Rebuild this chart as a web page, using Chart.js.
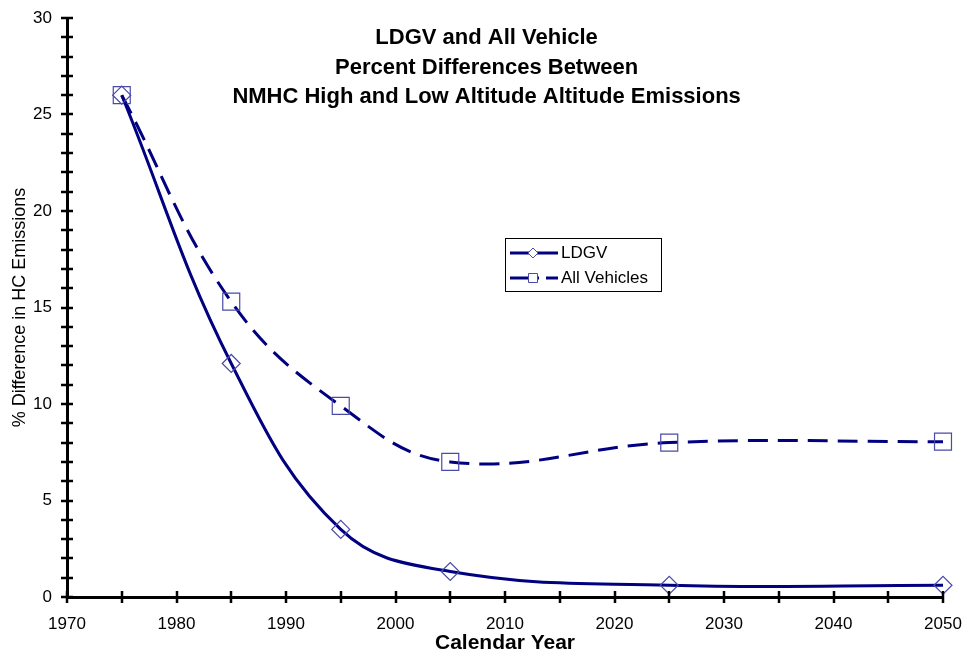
<!DOCTYPE html>
<html>
<head>
<meta charset="utf-8">
<script src="https://cdn.jsdelivr.net/npm/chart.js@4/dist/chart.umd.min.js"></script>
<style>
  html, body { margin: 0; padding: 0; background: #fff; }
  #wrap { width: 964px; height: 656px; }
</style>
</head>
<body>
<div id="wrap"><canvas id="chart" width="964" height="656"></canvas></div>
<script>
const years = [1975, 1985, 1995, 2005, 2025, 2050];
const ldgv = [26.0, 12.1, 3.5, 1.32, 0.61, 0.61];
const allVehicles = [26.0, 15.3, 9.9, 7.0, 8.0, 8.05];
const titleLines = ['LDGV and All Vehicle', 'Percent Differences Between', 'NMHC High and Low Altitude Altitude Emissions'];

const NAVY = '#000080';
const MARK = '#4a4aa8';
const FONT = '"Liberation Sans", Arial, sans-serif';

function toXY(ys) {
  return years.map((x, i) => ({ x, y: ys[i] }));
}

// cross ticks on both axes, minor every 1 (y) and every 5 years (x)
const axisTicks = {
  id: 'axisTicks',
  afterDraw(chart) {
    const { ctx, chartArea: a, scales: { x, y } } = chart;
    ctx.save();
    ctx.strokeStyle = '#000';
    ctx.lineWidth = 2.5;
    ctx.beginPath();
    for (let v = 0; v <= 30; v++) {
      const py = Math.round(y.getPixelForValue(v));
      ctx.moveTo(a.left - 6, py);
      ctx.lineTo(a.left + 6, py);
    }
    for (let v = 1970; v <= 2050; v += 5) {
      const px = Math.round(x.getPixelForValue(v));
      ctx.moveTo(px, a.bottom - 6);
      ctx.lineTo(px, a.bottom + 6);
    }
    ctx.stroke();
    ctx.restore();
  }
};

const innerTitle = {
  id: 'innerTitle',
  afterDraw(chart) {
    const { ctx, chartArea: a } = chart;
    ctx.save();
    ctx.fillStyle = '#000';
    ctx.font = 'bold 22px ' + FONT;
    ctx.textAlign = 'center';
    ctx.textBaseline = 'middle';
    const cx = a.left + (a.right - a.left) * 0.479;
    titleLines.forEach((t, i) => ctx.fillText(t, cx, 38 + i * 29.5));
    ctx.restore();
  }
};

const boxLegend = {
  id: 'boxLegend',
  afterDraw(chart) {
    const { ctx } = chart;
    const bx = 505, by = 238, bw = 156, bh = 53;
    ctx.save();
    ctx.fillStyle = '#fff';
    ctx.fillRect(bx, by, bw, bh);
    ctx.strokeStyle = '#000';
    ctx.lineWidth = 1;
    ctx.strokeRect(bx + 0.5, by + 0.5, bw, bh);
    chart.data.datasets.forEach((ds, i) => {
      const ly = by + 15 + i * 25;
      ctx.strokeStyle = ds.borderColor;
      ctx.lineWidth = ds.borderWidth;
      ctx.setLineDash(ds.borderDash ? [29, 7, 12, 60] : []);
      ctx.beginPath();
      ctx.moveTo(bx + 5, ly);
      ctx.lineTo(bx + 53, ly);
      ctx.stroke();
      ctx.setLineDash([]);
      ctx.fillStyle = '#fff';
      ctx.strokeStyle = ds.pointBorderColor;
      ctx.lineWidth = 1;
      const mx = bx + 28;
      ctx.beginPath();
      if (ds.pointStyle === 'rectRot') {
        ctx.moveTo(mx - 5, ly); ctx.lineTo(mx, ly - 5); ctx.lineTo(mx + 5, ly); ctx.lineTo(mx, ly + 5); ctx.closePath();
      } else {
        ctx.rect(mx - 4.5, ly - 4.5, 9, 9);
      }
      ctx.fill();
      ctx.stroke();
      ctx.fillStyle = '#000';
      ctx.font = '17px ' + FONT;
      ctx.textBaseline = 'middle';
      ctx.fillText(ds.label, bx + 56, ly);
    });
    ctx.restore();
  }
};

new Chart(document.getElementById('chart'), {
  type: 'line',
  data: {
    datasets: [
      {
        label: 'LDGV',
        data: toXY(ldgv),
        borderColor: NAVY,
        borderWidth: 3,
        tension: 0.4,
        pointStyle: 'rectRot',
        pointRadius: 9,
        pointBorderWidth: 1.2,
        pointBorderColor: MARK,
        pointBackgroundColor: 'rgba(0,0,0,0)',
        clip: false
      },
      {
        label: 'All Vehicles',
        data: toXY(allVehicles),
        borderColor: NAVY,
        borderWidth: 3,
        borderDash: [20, 10],
        tension: 0.4,
        pointStyle: 'rect',
        pointRadius: 12,
        pointBorderWidth: 1.2,
        pointBorderColor: MARK,
        pointBackgroundColor: 'rgba(0,0,0,0)',
        clip: false
      }
    ]
  },
  options: {
    responsive: false,
    animation: false,
    layout: { padding: { top: 18, right: 21, left: 0, bottom: 0 } },
    plugins: { legend: { display: false }, tooltip: { enabled: false }, title: { display: false } },
    scales: {
      x: {
        type: 'linear',
        min: 1970,
        max: 2050,
        afterFit: s => { s.height = 59; s.paddingRight = 0; s.paddingLeft = 0; },
        ticks: { stepSize: 10, padding: 9, color: '#000', font: { family: FONT, size: 17 }, maxRotation: 0, callback: v => String(v) },
        grid: { display: false },
        border: { display: true, color: '#000', width: 3 },
        title: { display: true, text: 'Calendar Year', color: '#000', font: { family: FONT, size: 21, weight: 'bold' }, padding: { top: 0, bottom: 0 } }
      },
      y: {
        min: 0,
        max: 30,
        afterFit: s => { s.width = 67; },
        ticks: { stepSize: 5, padding: 7, color: '#000', font: { family: FONT, size: 17 } },
        grid: { display: false },
        border: { display: true, color: '#000', width: 3 },
        title: { display: true, text: '% Difference in HC Emissions', color: '#000', font: { family: FONT, size: 18 }, padding: { top: 9, bottom: 0 } }
      }
    }
  },
  plugins: [axisTicks, innerTitle, boxLegend]
});
</script>
</body>
</html>
